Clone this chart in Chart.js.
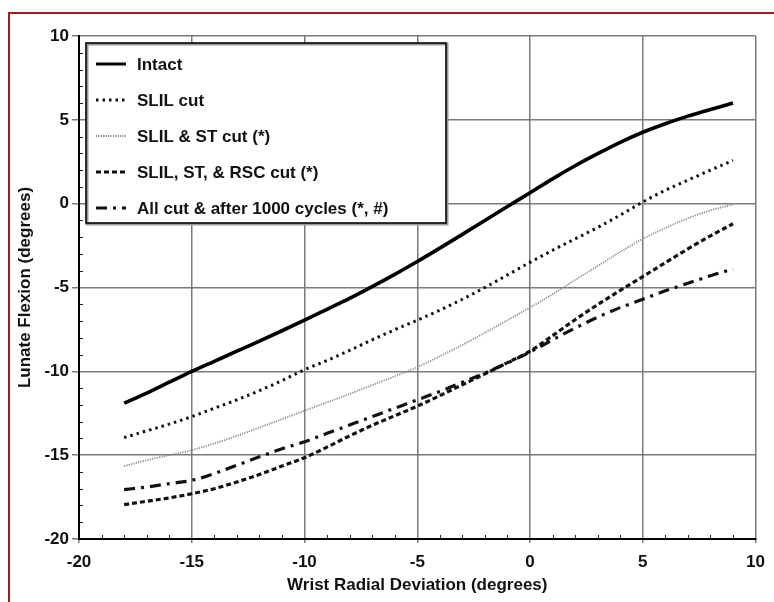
<!DOCTYPE html>
<html>
<head>
<meta charset="utf-8">
<script src="https://cdn.jsdelivr.net/npm/chart.js@4/dist/chart.umd.min.js"></script>
<style>
  html, body { margin: 0; padding: 0; background: #fff; }
  #wrap { position: relative; width: 774px; height: 602px; overflow: hidden; }
  #frame {
    position: absolute; left: 8px; top: 12px; width: 800px; height: 700px;
    border-left: 2px solid #9a1c1c; border-top: 2px solid #9a1c1c;
    pointer-events: none;
  }
</style>
</head>
<body>
<div id="wrap">
  <canvas id="chart" width="774" height="602"></canvas>
  <div id="frame"></div>
</div>
<script>
(function () {
  "use strict";

  // ── Data ──
  var xValues = [-18, -17, -16, -15, -14, -13, -12, -11, -10, -9, -8, -7, -6, -5,
                 -4, -3, -2, -1, 0, 1, 2, 3, 4, 5, 6, 7, 8, 9];
  var intact = [-11.9, -11.3, -10.65, -10.0, -9.4, -8.8, -8.2, -7.58, -6.95, -6.3, -5.65, -4.95, -4.22, -3.45,
                -2.65, -1.83, -1.0, -0.17, 0.65, 1.48, 2.26, 2.98, 3.66, 4.26, 4.77, 5.22, 5.62, 6.0];
  var slilCut = [-13.95, -13.55, -13.15, -12.7, -12.2, -11.7, -11.15, -10.55, -9.9, -9.35, -8.75, -8.12, -7.52, -6.95,
                 -6.35, -5.7, -5.0, -4.25, -3.5, -2.78, -2.1, -1.42, -0.68, 0.1, 0.8, 1.4, 2.0, 2.58];
  var slilSt = [-15.65, -15.3, -15.0, -14.7, -14.3, -13.85, -13.35, -12.85, -12.35, -11.85, -11.35, -10.82, -10.3, -9.75,
                -9.1, -8.42, -7.7, -6.95, -6.2, -5.4, -4.55, -3.72, -2.88, -2.1, -1.45, -0.87, -0.4, -0.05];
  var slilStRsc = [-17.95, -17.75, -17.55, -17.3, -17.0, -16.6, -16.15, -15.65, -15.15, -14.52, -13.85, -13.22, -12.65, -12.08,
                   -11.45, -10.8, -10.15, -9.48, -8.8, -7.87, -6.92, -6.02, -5.17, -4.35, -3.52, -2.7, -1.92, -1.2];
  var allCut = [-17.05, -16.9, -16.7, -16.5, -16.1, -15.6, -15.1, -14.62, -14.2, -13.7, -13.2, -12.7, -12.2, -11.7,
                -11.2, -10.65, -10.1, -9.5, -8.85, -8.12, -7.42, -6.77, -6.2, -5.7, -5.2, -4.75, -4.3, -3.9];

  var seriesLabels = ["Intact", "SLIL cut", "SLIL & ST cut (*)", "SLIL, ST, & RSC cut (*)", "All cut & after 1000 cycles (*, #)"];
  var xTicks = [-20, -15, -10, -5, 0, 5, 10];
  var yTicks = [-20, -15, -10, -5, 0, 5, 10];

  var FONT = "'Liberation Sans', Arial, sans-serif";
  var INK = "#111";

  function pts(arr) {
    return xValues.map(function (x, i) { return { x: x, y: arr[i] }; });
  }

  var styles = [
    { color: "#000", width: 3.6, dash: [] },
    { color: "#111", width: 3, dash: [2.5, 4] },
    { color: "#8a8a8a", width: 1.8, dash: [1.2, 1.2] },
    { color: "#111", width: 3.2, dash: [5, 3] },
    { color: "#111", width: 3.2, dash: [11, 6, 3, 6] }
  ];
  var series = [intact, slilCut, slilSt, slilStRsc, allCut];

  var datasets = series.map(function (arr, i) {
    return {
      label: seriesLabels[i],
      data: pts(arr),
      borderColor: styles[i].color,
      borderWidth: styles[i].width,
      borderDash: styles[i].dash,
      borderCapStyle: "butt",
      pointRadius: 0,
      cubicInterpolationMode: "monotone",
      fill: false
    };
  });

  // ── Minor ticks + in-plot legend ──
  var decorPlugin = {
    id: "decor",
    afterDatasetsDraw: function (chart) {
      var ctx = chart.ctx, a = chart.chartArea;
      var xs = chart.scales.x, ys = chart.scales.y;
      ctx.save();
      ctx.strokeStyle = "#222";
      ctx.lineWidth = 1;
      ctx.beginPath();
      for (var v = -19; v < 10; v++) {
        if (v % 5 === 0) continue;
        var px = Math.round(xs.getPixelForValue(v)) + 0.5;
        ctx.moveTo(px, a.bottom); ctx.lineTo(px, a.bottom - 4);
      }
      for (var w = -19; w < 10; w++) {
        if (w % 5 === 0) continue;
        var py = Math.round(ys.getPixelForValue(w)) + 0.5;
        ctx.moveTo(a.left, py); ctx.lineTo(a.left + 4, py);
      }
      ctx.stroke();

      // legend box
      var bx = a.left + 7, by = a.top + 7, bw = 360, bh = 180;
      ctx.fillStyle = "#fff";
      ctx.fillRect(bx, by, bw, bh);
      ctx.strokeStyle = "#999";
      ctx.lineWidth = 3;
      ctx.strokeRect(bx + 1, by + 1, bw, bh);
      ctx.strokeStyle = "#000";
      ctx.lineWidth = 1.5;
      ctx.strokeRect(bx, by, bw, bh);

      ctx.font = "bold 17px " + FONT;
      ctx.textBaseline = "middle";
      ctx.fillStyle = INK;
      chart.data.datasets.forEach(function (ds, i) {
        var ry = by + 21 + i * 36;
        ctx.beginPath();
        ctx.strokeStyle = ds.borderColor;
        ctx.lineWidth = Math.min(ds.borderWidth, 3);
        ctx.setLineDash(ds.borderDash || []);
        ctx.moveTo(bx + 10, ry);
        ctx.lineTo(bx + 40, ry);
        ctx.stroke();
        ctx.setLineDash([]);
        ctx.fillText(ds.label, bx + 51, ry + 1);
      });
      ctx.restore();
    }
  };

  new Chart(document.getElementById("chart"), {
    type: "line",
    data: { datasets: datasets },
    options: {
      responsive: false,
      animation: false,
      layout: { padding: { top: 36, right: 14, bottom: 6, left: 15 } },
      plugins: { legend: { display: false }, tooltip: { enabled: false } },
      scales: {
        x: {
          type: "linear", min: -20, max: 10,
          afterBuildTicks: function (s) { s.ticks = xTicks.map(function (v) { return { value: v }; }); },
          afterFit: function (s) { s.height = 57; },
          grid: { color: "#7a7a7a", lineWidth: 1.5, tickLength: 4, drawTicks: true },
          border: { color: "#000", width: 2 },
          ticks: { color: INK, font: { family: FONT, size: 17, weight: "bold" }, padding: 9, maxRotation: 0 },
          title: { display: true, text: "Wrist Radial Deviation (degrees)", color: INK,
                   font: { family: FONT, size: 17, weight: "bold" }, padding: { top: 0, bottom: 0 } }
        },
        y: {
          type: "linear", min: -20, max: 10,
          afterBuildTicks: function (s) { s.ticks = yTicks.map(function (v) { return { value: v }; }); },
          afterFit: function (s) { s.width = 64; },
          grid: { color: "#7a7a7a", lineWidth: 1.5, tickLength: 7 },
          border: { color: "#000", width: 2 },
          ticks: { color: INK, font: { family: FONT, size: 17, weight: "bold" }, padding: 3 },
          title: { display: true, text: "Lunate Flexion (degrees)", color: INK,
                   font: { family: FONT, size: 17, weight: "bold" }, padding: { top: 0, bottom: 0 } }
        }
      }
    },
    plugins: [decorPlugin]
  });
})();
</script>
</body>
</html>
